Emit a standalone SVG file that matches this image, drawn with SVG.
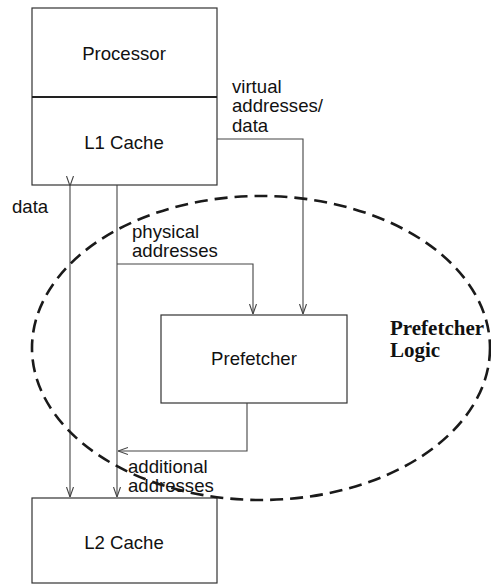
<svg xmlns="http://www.w3.org/2000/svg" width="491" height="585" viewBox="0 0 491 585">
  <style>
    .box { fill: #fff; stroke: #333; stroke-width: 1.2; }
    .lbl { font-family: "Liberation Sans", Arial, sans-serif; font-size: 18.6px; fill: #111; }
    .wire { fill: none; stroke: #444; stroke-width: 1.1; }
    .region { fill: none; stroke: #1a1a1a; stroke-width: 2.6; stroke-dasharray: 13 7; }
    .title { font-family: "Liberation Serif", "Times New Roman", serif; font-size: 21px; font-weight: bold; fill: #111; }
  </style>
  <defs>
    <marker id="arr" viewBox="0 0 10 10" refX="10" refY="5" markerWidth="10" markerHeight="10" markerUnits="userSpaceOnUse" orient="auto">
      <path d="M0,1.5 L10,5 L0,8.5" fill="none" stroke="#444" stroke-width="1.1"/>
    </marker>
  </defs>
  <rect width="491" height="585" fill="#fff"/>

  <g id="cpu">
    <rect class="box" x="32" y="8" width="185" height="177"/>
    <line x1="32" y1="97" x2="217" y2="97" stroke="#222" stroke-width="2.2"/>
    <text class="lbl" x="124" y="60" text-anchor="middle">Processor</text>
    <text class="lbl" x="124" y="149" text-anchor="middle">L1 Cache</text>
  </g>

  <g id="prefetcher">
    <rect class="box" x="161" y="315" width="186" height="88"/>
    <text class="lbl" x="254" y="365" text-anchor="middle">Prefetcher</text>
  </g>

  <g id="l2">
    <rect class="box" x="32" y="498" width="185" height="85"/>
    <text class="lbl" x="124" y="549" text-anchor="middle">L2 Cache</text>
  </g>

  <g id="connectors">
    <!-- data between L1 and L2 -->
    <line class="wire" x1="70" y1="186" x2="70" y2="497" marker-start="url(#arr)" marker-end="url(#arr)"/>
    <!-- physical addresses down to L2 -->
    <line class="wire" x1="117" y1="185" x2="117" y2="497" marker-end="url(#arr)"/>
    <!-- physical addresses tap into prefetcher -->
    <polyline class="wire" points="117,264 253,264 253,314" marker-end="url(#arr)"/>
    <!-- virtual addresses / data into prefetcher -->
    <polyline class="wire" points="217,139 303,139 303,314" marker-end="url(#arr)"/>
    <!-- additional addresses from prefetcher -->
    <polyline class="wire" points="247,403 247,451 118,451" marker-end="url(#arr)"/>

    <text class="lbl" x="12" y="213">data</text>
    <text class="lbl" x="232" y="93">virtual</text>
    <text class="lbl" x="232" y="112">addresses/</text>
    <text class="lbl" x="232" y="132">data</text>
    <text class="lbl" x="132" y="238">physical</text>
    <text class="lbl" x="132" y="257">addresses</text>
    <text class="lbl" x="128" y="473">additional</text>
    <text class="lbl" x="128" y="492">addresses</text>
  </g>

  <g id="prefetcher-logic">
    <ellipse class="region" cx="261" cy="348" rx="229" ry="152"/>
    <text class="title" x="390" y="335">Prefetcher</text>
    <text class="title" x="390" y="357">Logic</text>
  </g>
</svg>
